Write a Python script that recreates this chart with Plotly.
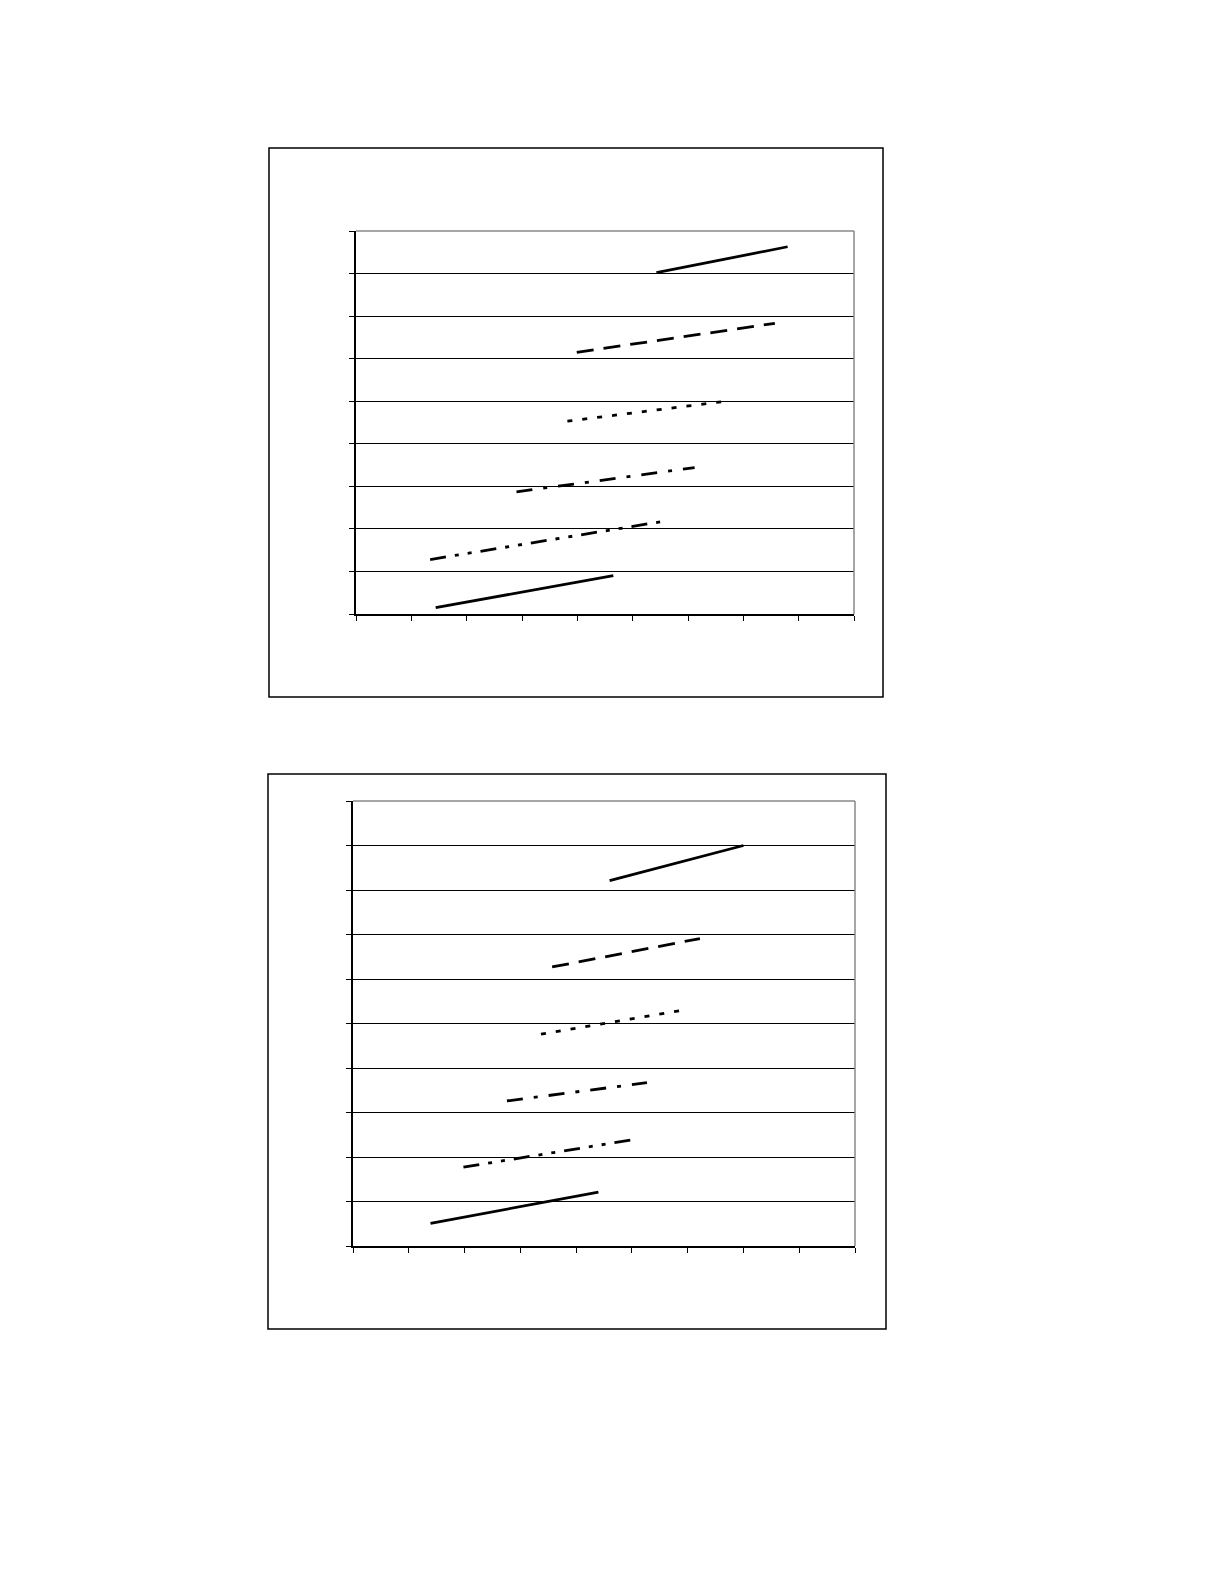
import plotly.graph_objects as go

# two panels, six straight line series each, no labels at all
# panel 1 (top) : y from 0 to 9, x from 0 to 9
p1_x = [[1.44, 4.65], [1.34, 5.52], [2.90, 6.12], [3.82, 6.75], [3.99, 7.57], [5.43, 7.80]]
p1_y = [[0.15, 0.90], [1.28, 2.17], [2.87, 3.44], [4.53, 5.01], [6.15, 6.83], [8.02, 8.63]]

# panel 2 (bottom) : y from 0 to 10, x from 0 to 9
p2_x = [[1.39, 4.40], [1.98, 5.02], [2.76, 5.27], [3.37, 6.02], [3.57, 6.22], [4.60, 7.00]]
p2_y = [[0.51, 1.21], [1.77, 2.39], [3.26, 3.67], [4.76, 5.32], [6.27, 6.91], [8.21, 9.00]]

# line style for each series (same order in both panels)
dashes = ["solid", "16px,9px,4px,9px,4px,9px", "16px,11px,4px,11px",
          "5px,10px", "17px,10px", "solid"]

# the page body keeps its default 8px margin, so the figure is a bit smaller
PAGE_W, PAGE_H = 1224, 1584
OFF = 8
W, H = PAGE_W - 2 * OFF, PAGE_H - 2 * OFF

fig = go.Figure()

for i in range(6):
    fig.add_trace(go.Scatter(x=p1_x[i], y=p1_y[i], mode="lines", xaxis="x", yaxis="y",
                             line=dict(color="black", width=2.8, dash=dashes[i]),
                             showlegend=False, hoverinfo="skip"))
    fig.add_trace(go.Scatter(x=p2_x[i], y=p2_y[i], mode="lines", xaxis="x2", yaxis="y2",
                             line=dict(color="black", width=2.8, dash=dashes[i]),
                             showlegend=False, hoverinfo="skip"))


# page pixel -> paper fraction
def fx(p):
    return (p - OFF) / W


def fy(p):
    return 1 - (p - OFF) / H


xax = dict(range=[0, 9], tickvals=list(range(10)), showticklabels=False,
           ticks="outside", ticklen=5, tickwidth=1, tickcolor="black",
           showgrid=False, zeroline=False, showline=True, linecolor="black",
           linewidth=1.5, fixedrange=True)
yax = dict(showticklabels=False, ticks="outside", ticklen=5, tickwidth=1,
           tickcolor="black", showgrid=True, gridcolor="black", gridwidth=1.2,
           zeroline=False, showline=True, linecolor="black", linewidth=1.5,
           fixedrange=True)

fig.update_layout(
    width=W, height=H,
    margin=dict(l=0, r=0, t=0, b=0),
    paper_bgcolor="white", plot_bgcolor="white",
    xaxis=dict(xax, domain=[fx(356), fx(854)], anchor="y"),
    yaxis=dict(yax, domain=[fy(614), fy(231)], range=[0, 9],
               tickvals=list(range(10)), anchor="x"),
    xaxis2=dict(xax, domain=[fx(353), fx(855)], anchor="y2"),
    yaxis2=dict(yax, domain=[fy(1246), fy(801)], range=[0, 10],
                tickvals=list(range(11)), anchor="x2"),
)

# outer chart boxes
for (x0, y0, x1, y1) in [(269, 148, 883, 697), (268, 774, 886, 1329)]:
    fig.add_shape(type="rect", xref="paper", yref="paper",
                  x0=fx(x0), x1=fx(x1), y0=fy(y1), y1=fy(y0),
                  line=dict(color="black", width=1.5), layer="below")

# grey top and right border of the plot areas
for xa, ya in [("x", "y"), ("x2", "y2")]:
    fig.add_shape(type="line", xref=xa + " domain", yref=ya + " domain",
                  x0=0, x1=1, y0=1, y1=1, line=dict(color="#888888", width=1.5))
    fig.add_shape(type="line", xref=xa + " domain", yref=ya + " domain",
                  x0=1, x1=1, y0=0, y1=1, line=dict(color="#888888", width=1.5))

fig.write_html("out.html")
